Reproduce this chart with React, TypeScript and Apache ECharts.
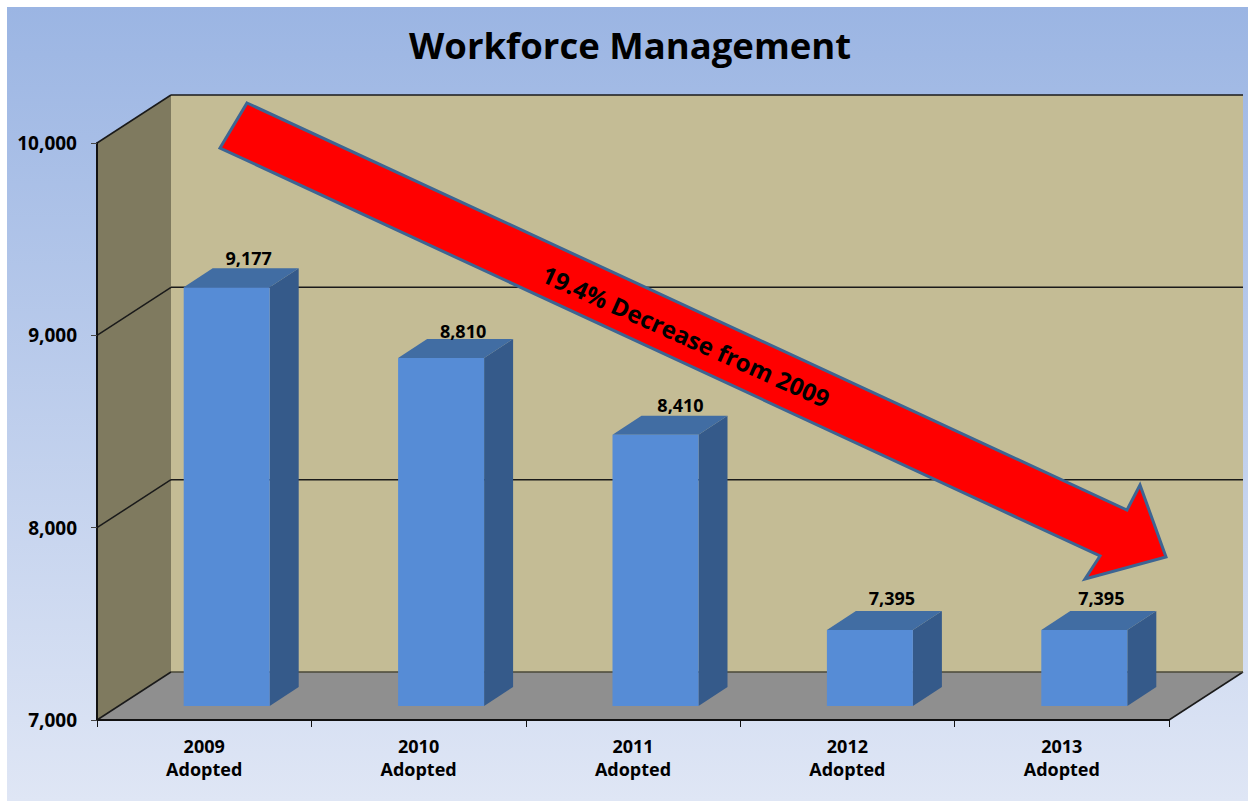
import React, { useEffect, useRef } from "react";
import * as echarts from "echarts";

const titleText = "Workforce Management";
const categories = ["2009\nAdopted", "2010\nAdopted", "2011\nAdopted", "2012\nAdopted", "2013\nAdopted"];
const positions = [9177, 8810, 8410, 7395, 7395];
const axisMin = 7000;
const axisMax = 10000;
const axisStep = 1000;
const gridValues = [8000, 9000, 10000];
const arrowLabel = "19.4% Decrease from 2009";

// label placement relative to each bar's front face / rear top edge (style only)
const labelLift = [10, 8, 11, 13, 13];
const labelShift = [22, 22, 25, 22, 17];

const FONT = '"Open Sans", "Noto Sans", sans-serif';
const WALL_DX = 74;
const WALL_DY = -48;
const BAR_W = 86;
const BAR_DX = 29;
const BAR_DY = -19;
const BAR_PLANE_DX = 22.5;
const BAR_PLANE_DY = -14;

const poly = (points: number[][], fill: string, z2 = 0) => ({
  type: "polygon",
  z2,
  shape: { points },
  style: { fill, stroke: "none" },
});
const seg = (x1: number, y1: number, x2: number, y2: number, stroke = "#1a1a1a", lineWidth = 1.5, z2 = 2) => ({
  type: "line",
  z2,
  shape: { x1, y1, x2, y2 },
  style: { stroke, lineWidth, fill: "none" },
});

const renderRoom = (params: any, api: any) => {
  const c = params.coordSys;
  const L = c.x;
  const R = c.x + c.width;
  const T = c.y;
  const B = c.y + c.height;
  const d = WALL_DX;
  const e = WALL_DY;
  const children: any[] = [
    poly([[L + d, T + e], [R + d, T + e], [R + d, B + e], [L + d, B + e]], "#c4bc95"),
    poly([[L, T], [L + d, T + e], [L + d, B + e], [L, B]], "#7f7a5f"),
    poly([[L, B], [L + d, B + e], [R + d, B + e], [R, B]], "#8f8f8f"),
    seg(L, B, L + d, B + e),
    seg(R, B, R + d, B + e),
    seg(L + d, B + e, R + d, B + e, "#4a4838", 1.5),
  ];
  gridValues.forEach((v) => {
    const y = api.coord([0, v])[1];
    children.push(seg(L, y, L + d, y + e));
    children.push(seg(L + d, y + e, R + d, y + e));
  });
  return { type: "group", children };
};

const renderBar = (params: any, api: any) => {
  const idx = api.value(0);
  const val = api.value(1);
  const top = api.coord([idx, val]);
  const base = api.coord([idx, axisMin]);
  const x0 = top[0] + BAR_PLANE_DX - BAR_W / 2;
  const x1 = x0 + BAR_W;
  const yT = top[1] + BAR_PLANE_DY;
  const yB = base[1] + BAR_PLANE_DY;
  return {
    type: "group",
    children: [
      poly([[x1, yT], [x1 + BAR_DX, yT + BAR_DY], [x1 + BAR_DX, yB + BAR_DY], [x1, yB]], "#355a8a", 3),
      poly([[x0, yT], [x0 + BAR_DX, yT + BAR_DY], [x1 + BAR_DX, yT + BAR_DY], [x1, yT]], "#416da3", 3),
      poly([[x0, yT], [x1, yT], [x1, yB], [x0, yB]], "#568cd6", 4),
      {
        type: "text",
        z2: 5,
        style: {
          text: val.toLocaleString("en-US"),
          x: (x0 + x1) / 2 + labelShift[idx],
          y: yT + BAR_DY - labelLift[idx],
          align: "center",
          verticalAlign: "middle",
          fontFamily: FONT,
          fontWeight: "bold",
          fontSize: 18,
          fill: "#000",
        },
      },
    ],
  };
};

export default function App() {
  const ref = useRef<HTMLDivElement>(null);
  useEffect(() => {
    if (!ref.current) return;
    const chart = echarts.init(ref.current, undefined, { renderer: "svg" });
    chart.setOption({
      animation: false,
      backgroundColor: "#ffffff",
      title: {
        text: titleText,
        left: 409,
        top: 26,
        padding: 0,
        textStyle: { fontFamily: FONT, fontWeight: "bold", fontSize: 36.5, color: "#000" },
      },
      grid: { left: 97, top: 143, width: 1072, height: 577 },
      xAxis: {
        type: "category",
        data: categories,
        z: 10,
        axisLine: { show: true, lineStyle: { color: "#111", width: 2 } },
        axisTick: { show: true, alignWithLabel: false, length: 7, lineStyle: { color: "#111", width: 1 } },
        axisLabel: {
          margin: 14,
          lineHeight: 23,
          fontFamily: FONT,
          fontWeight: "bold",
          fontSize: 18,
          color: "#000",
        },
      },
      yAxis: {
        type: "value",
        min: axisMin,
        max: axisMax,
        interval: axisStep,
        z: 10,
        splitLine: { show: false },
        axisLine: { show: true, lineStyle: { color: "#111", width: 2 } },
        axisTick: { show: true, length: 6, lineStyle: { color: "#444", width: 1 } },
        axisLabel: {
          margin: 20,
          fontFamily: FONT,
          fontWeight: "bold",
          fontSize: 19,
          color: "#000",
          formatter: (v: number) => v.toLocaleString("en-US"),
        },
      },
      graphic: [
        {
          type: "rect",
          z: -10,
          silent: true,
          shape: { x: 7, y: 7, width: 1241, height: 794 },
          style: {
            fill: new echarts.graphic.LinearGradient(0, 0, 0, 1, [
              { offset: 0, color: "#9bb5e3" },
              { offset: 1, color: "#dfe6f5" },
            ]),
          },
        },
        {
          type: "polygon",
          z: 20,
          silent: true,
          shape: {
            points: [
              [247, 103],
              [1127, 510],
              [1140, 485],
              [1166, 557],
              [1085, 579],
              [1100, 556],
              [220, 148],
            ],
          },
          style: { fill: "#ff0000", stroke: "#3d6593", lineWidth: 3, lineJoin: "miter" },
        },
        {
          type: "text",
          z: 21,
          silent: true,
          x: 686,
          y: 336,
          rotation: -0.42,
          style: {
            text: arrowLabel,
            align: "center",
            verticalAlign: "middle",
            fontFamily: FONT,
            fontWeight: "bold",
            fontSize: 24,
            fill: "#000",
          },
        },
      ],
      series: [
        {
          type: "custom",
          name: "room",
          silent: true,
          z: 1,
          clip: false,
          renderItem: renderRoom,
          data: [[0, axisMin]],
          encode: { x: 0, y: 1 },
        },
        {
          type: "custom",
          name: "Workforce",
          z: 2,
          clip: false,
          renderItem: renderBar,
          data: positions.map((v, i) => [i, v]),
          encode: { x: 0, y: 1 },
        },
      ],
    });
    return () => chart.dispose();
  }, []);
  return <div ref={ref} style={{ position: "fixed", left: 0, top: 0, width: 1248, height: 801 }} />;
}
